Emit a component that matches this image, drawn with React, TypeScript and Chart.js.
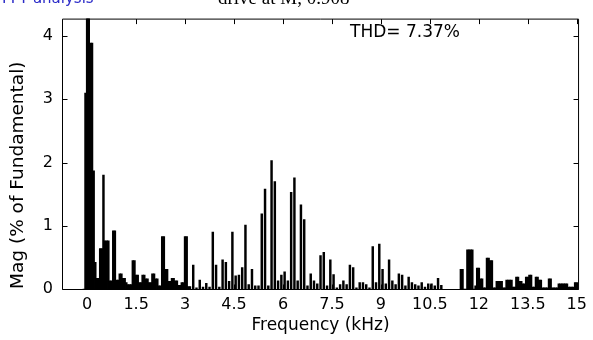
import React, { useEffect, useRef } from 'react';
import { Chart, registerables } from 'chart.js';

Chart.register(...registerables);

// Frequency grid (kHz): 50 Hz bins
const binStepKHz = 0.05;

// Low-frequency bins, starting at -0.1 kHz, 50 Hz apart (fundamental at 0 = 100 %)
const lowStartKHz = -0.1;
const lowMags = [
  0, 3.1, 100, 6, 3.89, 3.89, 1.87, 0.42, 0.17, 0.17,
  0.64, 0.64, 1.8, 0.76, 0.76, 0.76, 0.13, 0.13, 0.92, 0.92,
  0.14, 0.14, 0.24, 0.24, 0.17, 0.17, 0.1, 0.07, 0.07, 0.07,
  0.45, 0.45, 0.22, 0.22, 0.1, 0.1, 0.22, 0.22, 0.16, 0.16,
  0.1, 0.1, 0.24, 0.24, 0.16, 0.16, 0.05, 0.05, 0.83, 0.83,
  0.31, 0.31, 0.12, 0.12, 0.17, 0.17, 0.13, 0.13, 0.06, 0.06,
  0.1, 0.1, 0.83, 0.83, 0.04, 0.04,
];

// Mid-band spikes, starting at 3.25 kHz, 100 Hz apart
const midStartKHz = 3.25;
const midStepKHz = 0.1;
const midMags = [
  0.38, 0.02, 0.14, 0.03, 0.09, 0.03, 0.9, 0.38, 0.03, 0.46,
  0.42, 0.12, 0.9, 0.21, 0.22, 0.34, 1.01, 0.07, 0.31, 0.05,
  0.05, 1.19, 1.58, 0.05, 2.03, 1.7, 0.13, 0.22, 0.27, 0.13,
  1.53, 1.76, 0.13, 1.33, 1.1, 0.05, 0.24, 0.13, 0.08, 0.53,
  0.58, 0.05, 0.46, 0.23, 0.02, 0.07, 0.13, 0.07, 0.38, 0.34,
  0.02, 0.1, 0.1, 0.07, 0.02, 0.67, 0.1, 0.71, 0.31, 0.08,
  0.46, 0.13, 0.07, 0.24, 0.22, 0.05, 0.19, 0.1, 0.07, 0.05,
  0.1, 0.03, 0.08, 0.08, 0.05, 0.17, 0.06,
];

// High-band bins, starting at 11.45 kHz, 50 Hz apart
const highStartKHz = 11.45;
const highMags = [
  0.31, 0.31, 0, 0, 0.62, 0.62, 0.62, 0.62, 0, 0.05,
  0.33, 0.33, 0.16, 0.16, 0.02, 0.02, 0.49, 0.49, 0.45, 0.45,
  0.02, 0.02, 0.12, 0.12, 0.12, 0.12, 0.02, 0.02, 0.14, 0.14,
  0.14, 0.14, 0.03, 0.03, 0.19, 0.19, 0.12, 0.12, 0.08, 0.08,
  0.19, 0.19, 0.22, 0.22, 0.03, 0.03, 0.19, 0.19, 0.14, 0.14,
  0.02, 0.02, 0.02, 0.02, 0.16, 0.16, 0.02, 0.02, 0.02, 0.02,
  0.08, 0.08, 0.08, 0.08, 0.08, 0.08, 0.03, 0.03, 0.03, 0.03,
  0.1, 0.1,
];

const xTickValues = [0, 1.5, 3, 4.5, 6, 7.5, 9, 10.5, 12, 13.5, 15];
const xTickLabels = ['0', '1.5', '3', '4.5', '6', '7.5', '9', '10.5', '12', '13.5', '15'];
const yTickValues = [0, 1, 2, 3, 4];
const yTickLabels = ['0', '1', '2', '3', '4'];

const thdText = 'THD= 7.37%';
const xTitle = 'Frequency (kHz)';
const yTitle = 'Mag (% of Fundamental)';
const headerLeft = 'FFT analysis';
const headerRight = 'drive at M, 0.908';

function toPoints(start: number, step: number, mags: number[]) {
  return mags.map((m, i) => ({ x: +(start + step * i).toFixed(3), y: m }));
}

const FONT = 'DejaVu Sans';

const framePlugin = {
  id: 'frame',
  afterDatasetsDraw(chart: any) {
    const { ctx, chartArea: a, scales } = chart;
    const xs = scales.x;
    const ys = scales.y;
    ctx.save();
    ctx.strokeStyle = '#000';
    ctx.lineWidth = 1;
    const L = a.left + 0.5;
    const R = a.right - 0.5;
    const T = a.top + 0.5;
    const B = a.bottom + 0.5;
    ctx.beginPath();
    ctx.rect(L, T, R - L, B - T);
    ctx.stroke();
    ctx.beginPath();
    for (const v of xTickValues) {
      const px = Math.round(xs.getPixelForValue(v)) + 0.5;
      ctx.moveTo(px, T);
      ctx.lineTo(px, T + 5);
      ctx.moveTo(px, B);
      ctx.lineTo(px, B - 5);
    }
    for (const v of yTickValues) {
      const py = Math.round(ys.getPixelForValue(v)) + 0.5;
      ctx.moveTo(L, py);
      ctx.lineTo(L + 5, py);
      ctx.moveTo(R, py);
      ctx.lineTo(R - 5, py);
    }
    ctx.stroke();

    ctx.fillStyle = '#000';
    ctx.font = `17px "${FONT}"`;
    ctx.textAlign = 'left';
    ctx.textBaseline = 'middle';
    ctx.fillText(thdText, 350, 33);

    ctx.font = '15px "DejaVu Sans"';
    ctx.fillStyle = '#2b2bc8';
    ctx.textBaseline = 'alphabetic';
    ctx.fillText(headerLeft, 2, 3);

    ctx.font = '19px "Liberation Serif"';
    ctx.fillStyle = '#000';
    ctx.fillText(headerRight, 218, 4);
    ctx.restore();
  },
};

export default function App() {
  const ref = useRef<HTMLCanvasElement | null>(null);
  useEffect(() => {
    if (!ref.current) return;
    const data = [
      ...toPoints(lowStartKHz, binStepKHz, lowMags),
      ...toPoints(midStartKHz, midStepKHz, midMags),
      ...toPoints(highStartKHz, binStepKHz, highMags),
    ];
    const chart = new Chart(ref.current, {
      type: 'bar',
      data: {
        datasets: [
          {
            data,
            backgroundColor: '#000',
            borderWidth: 0,
            barThickness: 1.8,
            grouped: false,
          } as any,
        ],
      },
      options: {
        animation: false,
        responsive: false,
        maintainAspectRatio: false,
        layout: { padding: { left: 0, right: 11, top: 11, bottom: 0 } },
        plugins: { legend: { display: false }, tooltip: { enabled: false } },
        scales: {
          x: {
            type: 'linear',
            min: -0.77,
            max: 15.07,
            offset: false,
            grid: { display: false, drawTicks: false },
            border: { display: false },
            ticks: {
              color: '#000',
              font: { family: FONT, size: 16 },
              padding: 6,
              maxRotation: 0,
              autoSkip: false,
              callback: (_v: any, i: number) => xTickLabels[i],
            },
            afterBuildTicks: (s: any) => {
              s.ticks = xTickValues.map((v) => ({ value: v }));
            },
            afterFit: (s: any) => {
              s.height = 51;
            },
            title: {
              display: true,
              text: xTitle,
              color: '#000',
              font: { family: FONT, size: 17 },
              padding: { top: 0, bottom: 4 },
            },
          },
          y: {
            min: 0,
            max: 4.277,
            grid: { display: false, drawTicks: false },
            border: { display: false },
            ticks: {
              color: '#000',
              font: { family: FONT, size: 16 },
              padding: 9,
              autoSkip: false,
              callback: (_v: any, i: number) => yTickLabels[i],
            },
            afterBuildTicks: (s: any) => {
              s.ticks = yTickValues.map((v) => ({ value: v }));
            },
            afterFit: (s: any) => {
              s.width = 62;
            },
            title: {
              display: true,
              text: yTitle,
              align: 'start',
              color: '#000',
              font: { family: FONT, size: 18.5 },
              padding: { top: 7, bottom: 0 },
            },
          },
        },
      },
      plugins: [framePlugin],
    });
    return () => chart.destroy();
  }, []);
  return (
    <div style={{ position: 'fixed', left: 0, top: 0, width: 593, height: 340, background: '#fff' }}>
      <canvas ref={ref} width={593} height={340} style={{ display: 'block' }} />
    </div>
  );
}
